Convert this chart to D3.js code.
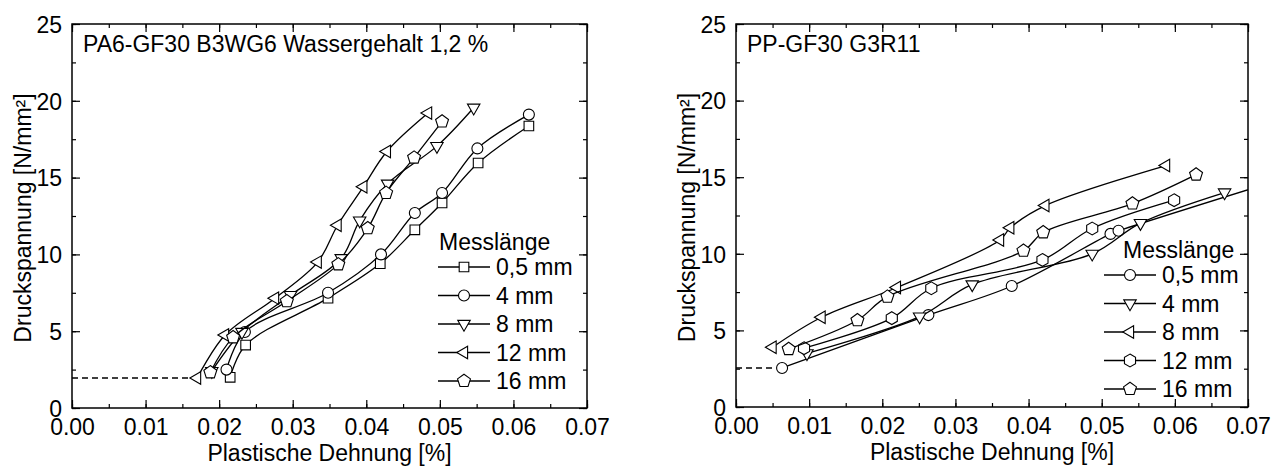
<!DOCTYPE html>
<html>
<head>
<meta charset="utf-8">
<script src="https://cdn.jsdelivr.net/npm/d3@7"></script>
<style>
    body { margin: 0; background: #fff; }
    svg text { font-family: "Liberation Sans", Arial, sans-serif; fill: #000; }
</style>
</head>
<body>
<div id="chart"></div>
<script>

// axis ticks (shared by both panels)
const xTicks = [0.00, 0.01, 0.02, 0.03, 0.04, 0.05, 0.06, 0.07];
const yTicks = [0, 5, 10, 15, 20, 25];
const legendTitle = "Messlänge";
const xLabel = "Plastische Dehnung [%]";
const yLabel = "Druckspannung [N/mm²]";

// left panel: PA6-GF30
const pa6Title = "PA6-GF30 B3WG6 Wassergehalt 1,2 %";
const pa6Labels = ["0,5 mm", "4 mm", "8 mm", "12 mm", "16 mm"];
const pa6Symbols = ["square", "circle", "down", "left", "pentagon"];
const pa6_05 = [[0.0215, 2.0], [0.0236, 4.1], [0.0348, 7.15], [0.0419, 9.4], [0.0466, 11.6], [0.0503, 13.35], [0.0552, 15.95], [0.0621, 18.36]];
const pa6_4 = [[0.0210, 2.5], [0.0235, 4.95], [0.0348, 7.5], [0.0420, 10.0], [0.0466, 12.7], [0.0503, 14.0], [0.0551, 16.9], [0.0621, 19.1]];
const pa6_8 = [[0.0190, 2.4], [0.0231, 4.95], [0.0297, 7.35], [0.0366, 9.75], [0.0391, 12.2], [0.0429, 14.6], [0.0496, 17.05], [0.0546, 19.55]];
const pa6_12 = [[0.0170, 1.95], [0.0208, 4.75], [0.0276, 7.15], [0.0334, 9.5], [0.0361, 11.9], [0.0396, 14.4], [0.0428, 16.7], [0.0484, 19.2]];
const pa6_16 = [[0.0188, 2.32], [0.0219, 4.6], [0.0292, 6.95], [0.0362, 9.35], [0.0402, 11.7], [0.0427, 14.0], [0.0465, 16.3], [0.0503, 18.65]];
const pa6Start = [0.0170, 1.95];

// right panel: PP-GF30
const ppTitle = "PP-GF30 G3R11";
const ppLabels = ["0,5 mm", "4 mm", "8 mm", "12 mm", "16 mm"];
const ppSymbols = ["circle", "down", "left", "hexagon", "pentagon"];
const pp_05 = [[0.0063, 2.55], [0.0263, 6.0], [0.0377, 7.9], [0.0512, 11.3], [0.0523, 11.5], [0.0745, 14.85]];
const pp_4 = [[0.0097, 3.5], [0.0251, 5.9], [0.0323, 8.0], [0.0487, 10.0], [0.0553, 12.0], [0.0668, 14.0]];
const pp_8 = [[0.0050, 3.9], [0.0117, 5.86], [0.0220, 7.8], [0.0361, 10.9], [0.0375, 11.7], [0.0423, 13.15], [0.0588, 15.76]];
const pp_12 = [[0.0093, 3.84], [0.0213, 5.8], [0.0267, 7.75], [0.0419, 9.6], [0.0487, 11.65], [0.0599, 13.5]];
const pp_16 = [[0.0072, 3.78], [0.0166, 5.66], [0.0207, 7.2], [0.0393, 10.2], [0.0420, 11.4], [0.0542, 13.28], [0.0629, 15.17]];
const ppStart = [0.0063, 2.55];


// regular polygon path centred on 0,0
function polygon(n, r, startAngle) {
    let pts = d3.range(n).map(i => {
        let a = startAngle + i * 2 * Math.PI / n;
        return [r * Math.cos(a), r * Math.sin(a)];
    });
    return "M" + pts.map(p => p[0].toFixed(2) + "," + p[1].toFixed(2)).join("L") + "Z";
}

function symbolPath(name) {
    switch (name) {
        case "square": return polygon(4, 6.8, Math.PI / 4);
        case "circle": return d3.symbol(d3.symbolCircle, 95)();
        case "down": return polygon(3, 7.2, Math.PI / 2);
        case "left": return polygon(3, 7.2, Math.PI);
        case "pentagon": return polygon(5, 6.8, -Math.PI / 2);
        case "hexagon": return polygon(6, 6.4, -Math.PI / 2);
    }
}


class StrainPanel {

    constructor(svg, box, title, series, labels, symbols, start, clipId, legendPos) {
        this.svg = svg;
        this.box = box;
        this.title = title;
        this.series = series;
        this.labels = labels;
        this.symbols = symbols;
        this.start = start;
        this.clipId = clipId;
        this.legendPos = legendPos;

        this.initVis();
    }

    initVis() {
        let vis = this;
        let b = vis.box;

        vis.width = b.right - b.left;
        vis.height = b.bottom - b.top;

        vis.g = vis.svg.append("g")
            .attr("transform", "translate(" + b.left + "," + b.top + ")");

        // scales
        vis.x = d3.scaleLinear().domain([0, 0.07]).range([0, vis.width]);
        vis.y = d3.scaleLinear().domain([0, 25]).range([vis.height, 0]);

        vis.g.append("defs").append("clipPath")
            .attr("id", vis.clipId)
            .append("rect")
            .attr("width", vis.width)
            .attr("height", vis.height);

        // ticks pointing inward on all four sides
        let minorX = d3.range(0, 0.0701, 0.005);
        let minorY = d3.range(0, 25.01, 2.5);

        vis.g.append("g")
            .attr("transform", "translate(0," + vis.height + ")")
            .call(d3.axisBottom(vis.x).tickValues(minorX).tickSizeInner(-4).tickSizeOuter(0).tickFormat(""));
        vis.g.append("g")
            .call(d3.axisTop(vis.x).tickValues(minorX).tickSizeInner(-4).tickSizeOuter(0).tickFormat(""));
        vis.g.append("g")
            .call(d3.axisLeft(vis.y).tickValues(minorY).tickSizeInner(-4).tickSizeOuter(0).tickFormat(""));
        vis.g.append("g")
            .attr("transform", "translate(" + vis.width + ",0)")
            .call(d3.axisRight(vis.y).tickValues(minorY).tickSizeInner(-4).tickSizeOuter(0).tickFormat(""));

        vis.xAxis = vis.g.append("g")
            .attr("class", "axis axis--x")
            .attr("transform", "translate(0," + vis.height + ")")
            .call(d3.axisBottom(vis.x).tickValues(xTicks).tickSizeInner(-8).tickSizeOuter(0)
                .tickPadding(11).tickFormat(d3.format(".2f")));
        vis.g.append("g")
            .call(d3.axisTop(vis.x).tickValues(xTicks).tickSizeInner(-8).tickSizeOuter(0).tickFormat(""));
        vis.yAxis = vis.g.append("g")
            .attr("class", "axis axis--y")
            .call(d3.axisLeft(vis.y).tickValues(yTicks).tickSizeInner(-8).tickSizeOuter(0)
                .tickPadding(10).tickFormat(d3.format("d")));
        vis.g.append("g")
            .attr("transform", "translate(" + vis.width + ",0)")
            .call(d3.axisRight(vis.y).tickValues(yTicks).tickSizeInner(-8).tickSizeOuter(0).tickFormat(""));

        vis.g.selectAll(".domain").remove();
        vis.g.selectAll(".tick line").attr("stroke", "#000").attr("stroke-width", 1.2);
        vis.g.selectAll(".tick text").attr("font-size", "23px").attr("fill", "#000")
            .attr("font-family", "'Liberation Sans', Arial, sans-serif");
        vis.yAxis.selectAll(".tick text").attr("dy", "0.36em");

        // frame
        vis.g.append("rect")
            .attr("width", vis.width)
            .attr("height", vis.height)
            .attr("fill", "none")
            .attr("stroke", "#000")
            .attr("stroke-width", 1.5);

        // axis titles
        vis.g.append("text")
            .attr("x", vis.width / 2)
            .attr("y", vis.height + 53)
            .attr("text-anchor", "middle")
            .attr("font-size", "23px")
            .text(xLabel);
        vis.g.append("text")
            .attr("transform", "translate(-41," + (vis.height / 2 + 2) + ") rotate(-90)")
            .attr("text-anchor", "middle")
            .attr("font-size", "23px")
            .text(yLabel);

        // panel title
        vis.g.append("text")
            .attr("x", 11)
            .attr("y", 28)
            .attr("font-size", "23px")
            .text(vis.title);

        vis.updateVis();
    }

    updateVis() {
        let vis = this;

        let line = d3.line()
            .curve(d3.curveCatmullRom.alpha(0.5))
            .x(d => vis.x(d[0]))
            .y(d => vis.y(d[1]));

        // dashed guide from the axis to the first point
        vis.g.append("line")
            .attr("x1", vis.x(0))
            .attr("x2", vis.x(vis.start[0]) - 6)
            .attr("y1", vis.y(vis.start[1]))
            .attr("y2", vis.y(vis.start[1]))
            .attr("stroke", "#000")
            .attr("stroke-width", 1.4)
            .attr("stroke-dasharray", "6,4");

        let plotArea = vis.g.append("g").attr("clip-path", "url(#" + vis.clipId + ")");

        vis.series.forEach((data, i) => {
            plotArea.append("path")
                .datum(data)
                .attr("d", line)
                .attr("fill", "none")
                .attr("stroke", "#000")
                .attr("stroke-width", 1.3);

            plotArea.selectAll(".pt" + i)
                .data(data)
                .enter()
                .append("path")
                .attr("class", "pt" + i)
                .attr("d", symbolPath(vis.symbols[i]))
                .attr("transform", d => "translate(" + vis.x(d[0]) + "," + vis.y(d[1]) + ")")
                .attr("fill", "#fff")
                .attr("stroke", "#000")
                .attr("stroke-width", 1.1);
        });

        // legend
        let lp = vis.legendPos;
        let legend = vis.g.append("g")
            .attr("transform", "translate(" + lp.x + "," + lp.y + ")");

        legend.append("text")
            .attr("x", lp.titleX)
            .attr("y", 8)
            .attr("font-size", "23px")
            .text(legendTitle);

        vis.labels.forEach((label, i) => {
            let row = legend.append("g")
                .attr("transform", "translate(0," + (25 + i * 28.5) + ")");
            row.append("line")
                .attr("x1", 0).attr("x2", 52)
                .attr("stroke", "#000")
                .attr("stroke-width", 1.3);
            row.append("path")
                .attr("d", symbolPath(vis.symbols[i]))
                .attr("transform", "translate(26,0)")
                .attr("fill", "#fff")
                .attr("stroke", "#000")
                .attr("stroke-width", 1.1);
            row.append("text")
                .attr("x", 58)
                .attr("y", 8)
                .attr("font-size", "23px")
                .text(label);
        });
    }
}


let svg = d3.select("#chart").append("svg")
    .attr("width", 1284)
    .attr("height", 466);

new StrainPanel(svg, {left: 72, right: 587, top: 24, bottom: 408}, pa6Title,
    [pa6_05, pa6_4, pa6_8, pa6_12, pa6_16], pa6Labels, pa6Symbols, pa6Start, "clipA",
    {x: 366, y: 218, titleX: 1});

new StrainPanel(svg, {left: 736, right: 1248, top: 24, bottom: 407}, ppTitle,
    [pp_05, pp_4, pp_8, pp_12, pp_16], ppLabels, ppSymbols, ppStart, "clipB",
    {x: 368, y: 226, titleX: 19});

</script>
</body>
</html>
